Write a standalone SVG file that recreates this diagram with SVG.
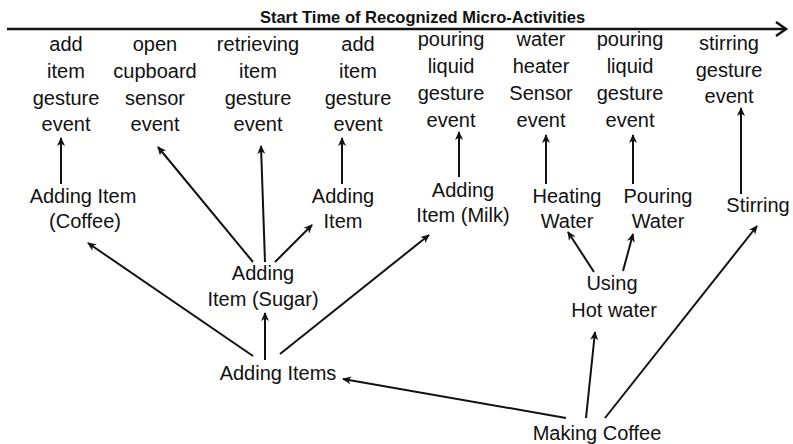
<svg xmlns="http://www.w3.org/2000/svg" width="793" height="444" viewBox="0 0 793 444">
<style>
  text { font-family: "Liberation Sans", Arial, sans-serif; font-size: 20px; fill: #111; text-anchor: middle; }
  .hdr { font-weight: bold; font-size: 16.5px; }
  .c { stroke: #111; stroke-width: 2; fill: none; marker-end: url(#ah); }
</style>
<defs>
  <marker id="ah" markerWidth="10" markerHeight="10" refX="8" refY="4" orient="auto" markerUnits="userSpaceOnUse">
    <path d="M0,0 L9,4 L0,8 L2.5,4 Z" fill="#111"/>
  </marker>
</defs>
<rect width="793" height="444" fill="#fff"/>
<g id="axis">
  <text class="hdr" x="422.5" y="23">Start Time of Recognized Micro-Activities</text>
  <line x1="7" y1="29" x2="786" y2="29" stroke="#111" stroke-width="2.5"/>
  <path d="M776,22 L786,29 L776,36" stroke="#111" stroke-width="2.5" fill="none"/>
</g>
<g id="e1"><text x="66" y="51">add</text><text x="66" y="78">item</text><text x="66" y="105">gesture</text><text x="66" y="131">event</text></g>
<g id="e2"><text x="155" y="51">open</text><text x="155" y="78">cupboard</text><text x="155" y="105">sensor</text><text x="155" y="131">event</text></g>
<g id="e3"><text x="258" y="51">retrieving</text><text x="258" y="78">item</text><text x="258" y="105">gesture</text><text x="258" y="131">event</text></g>
<g id="e4"><text x="358" y="51">add</text><text x="358" y="78">item</text><text x="358" y="105">gesture</text><text x="358" y="131">event</text></g>
<g id="e5"><text x="451" y="46">pouring</text><text x="451" y="73">liquid</text><text x="451" y="100">gesture</text><text x="451" y="127">event</text></g>
<g id="e6"><text x="541" y="46">water</text><text x="541" y="73">heater</text><text x="541" y="100">Sensor</text><text x="541" y="127">event</text></g>
<g id="e7"><text x="630" y="46">pouring</text><text x="630" y="73">liquid</text><text x="630" y="100">gesture</text><text x="630" y="127">event</text></g>
<g id="e8"><text x="729" y="50">stirring</text><text x="729" y="77">gesture</text><text x="729" y="103">event</text></g>
<g id="addCoffee"><text x="83" y="203">Adding Item</text><text x="85" y="228">(Coffee)</text></g>
<g id="addItem"><text x="343" y="203">Adding</text><text x="343" y="228">Item</text></g>
<g id="addSugar"><text x="263" y="280">Adding</text><text x="263" y="306">Item (Sugar)</text></g>
<g id="addMilk"><text x="463" y="197">Adding</text><text x="463" y="222">Item (Milk)</text></g>
<g id="heating"><text x="567" y="203">Heating</text><text x="567" y="228">Water</text></g>
<g id="pouring"><text x="658" y="203">Pouring</text><text x="658" y="228">Water</text></g>
<g id="stirring"><text x="758" y="212">Stirring</text></g>
<g id="using"><text x="612" y="290">Using</text><text x="614" y="317">Hot water</text></g>
<g id="addItems"><text x="278" y="380">Adding Items</text></g>
<g id="making"><text x="597" y="440">Making Coffee</text></g>
<g id="connectors">
  <line class="c" x1="61" y1="184" x2="61" y2="138"/>
  <line class="c" x1="253" y1="262" x2="158" y2="147"/>
  <line class="c" x1="265" y1="262" x2="261" y2="146"/>
  <line class="c" x1="275" y1="262" x2="312" y2="225"/>
  <line class="c" x1="342" y1="184" x2="342" y2="138"/>
  <line class="c" x1="253" y1="356" x2="88" y2="243"/>
  <line class="c" x1="265" y1="360" x2="265" y2="313"/>
  <line class="c" x1="280" y1="354" x2="429" y2="235"/>
  <line class="c" x1="459" y1="177" x2="459" y2="132"/>
  <line class="c" x1="546" y1="184" x2="546" y2="135"/>
  <line class="c" x1="633" y1="184" x2="633" y2="135"/>
  <line class="c" x1="741" y1="194" x2="741" y2="108"/>
  <line class="c" x1="594" y1="272" x2="568" y2="232"/>
  <line class="c" x1="623" y1="271" x2="633" y2="234"/>
  <line class="c" x1="605" y1="418" x2="757" y2="226"/>
  <line class="c" x1="586" y1="418" x2="595" y2="332"/>
  <line class="c" x1="566" y1="418" x2="343" y2="379"/>
</g>
</svg>
